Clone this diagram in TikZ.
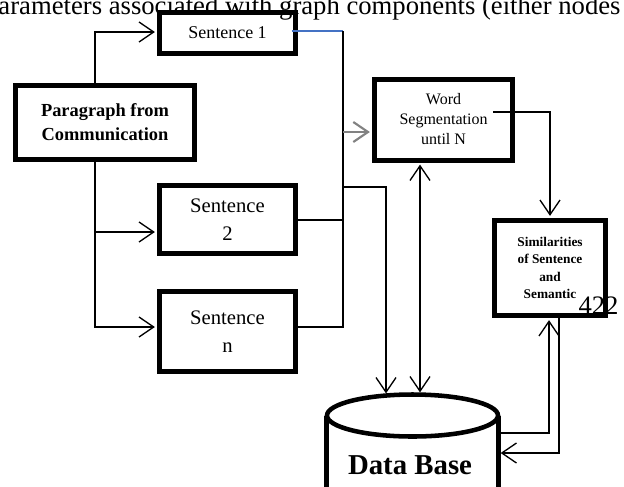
\documentclass[tikz,border=0pt]{standalone}
\usepackage{fontspec}
\setmainfont{Liberation Serif}
\usetikzlibrary{arrows.meta,calc}

\definecolor{wireblue}{RGB}{68,114,196}
\definecolor{wiregray}{RGB}{130,130,130}

\tikzset{every picture/.style={line width=0.75pt}}
\tikzset{
  boxnode/.style={draw, line width=3.75pt, inner sep=0pt, align=center},
  dbline/.style={line width=3.4pt},
  wire/.style={line width=1pt},
  arr/.style={wire, -{Straight Barb[length=11pt,width=15pt]}, shorten >=1.6pt},
  biarr/.style={wire, {Straight Barb[length=11pt,width=15pt]}-{Straight Barb[length=11pt,width=15pt]}, shorten >=1.6pt, shorten <=1.6pt},
  grayarr/.style={line width=1.6pt, wiregray, -{Straight Barb[length=11pt,width=15pt]}, shorten >=1.6pt},
  blueline/.style={wire, wireblue},
}

\begin{document}
\begin{tikzpicture}[x=0.75pt,y=0.75pt,yscale=-1,xscale=1]
\useasboundingbox (0,0) rectangle (624,486);
\clip (0,0) rectangle (624,486);

% Text Node
\node [anchor=base west, inner sep=0pt, font=\fontsize{20}{24}\selectfont] (header) at (-2,14) {arameters associated with graph components (either nodes};

%Shape: Rectangle
\node [boxnode, minimum width=134.25pt, minimum height=55.5pt, font=\bfseries\fontsize{13.8}{18}\selectfont] (para) at (105,122.5) {Paragraph from\\Communication};
%Shape: Rectangle
\node [boxnode, minimum width=102pt, minimum height=30.75pt, font=\fontsize{13.5}{16}\selectfont] (s1) at (227.5,33) {Sentence 1};
%Shape: Rectangle
\node [boxnode, minimum width=102pt, minimum height=51pt, font=\fontsize{15.5}{20.5}\selectfont] (s2) at (227.5,219.5) {Sentence\\2};
%Shape: Rectangle
\node [boxnode, minimum width=102pt, minimum height=60pt, font=\fontsize{15.5}{21.5}\selectfont] (sn) at (227.5,331.5) {Sentence\\n};
%Shape: Rectangle
\node [boxnode, minimum width=103.5pt, minimum height=60.75pt, font=\fontsize{12}{15}\selectfont] (word) at (443.5,119.5) {Word\\Segmentation\\until N};
%Shape: Rectangle
\node [boxnode, minimum width=83.25pt, minimum height=71.25pt, font=\bfseries\fontsize{10}{13.2}\selectfont] (sim) at (550,268) {Similarities\\of Sentence\\and\\Semantic};

%Shape: Can
\node [minimum width=128.25pt, minimum height=90.75pt, inner sep=0pt] (db) at (412.5,476.5) {};
\draw [dbline] (db.south west) -- (db.north west) (db.north east) -- (db.south east);
\draw [dbline, fill=white] (db.north) ellipse [x radius=85.5, y radius=21];
% Text Node
\node [font=\bfseries\fontsize{21.6}{26}\selectfont, inner sep=0pt] (dbname) at (410,465) {Data Base};
% Text Node
\node [anchor=base, inner sep=0pt, font=\fontsize{20}{24}\selectfont] (pagenum) at (598.5,314) {422};

%Straight Lines
\draw [arr] (para.north -| 95,0) |- (s1.west |- 0,32);
\draw [arr] (para.south -| 95,0) |- (s2.west |- 0,232);
\draw [arr] (para.south -| 95,0) |- (sn.west |- 0,327);

%Straight Lines
\coordinate (bus) at (343,31);
\draw [blueline] ($(s1.east)+(-6.5,-2)$) -- (bus);
\draw [wire] (s2.east |- 0,220) -- (bus |- 0,220);
\draw [wire] (sn.east |- 0,327) -| (bus);
\draw [grayarr] (bus |- 0,132) -- (word.west |- 0,132);
\draw [arr] (bus |- 0,187) -| ($(db.north)+(-26.5,-20)$);

%Straight Lines
\draw [biarr] (word.south -| 420,0) -- ($(db.north)+(7.5,-21)$);
\draw [arr] ($(word.center)+(49.5,-7.5)$) -| (sim.north);
\draw [arr] (db.east |- 0,433) -| (sim.south -| 549,0);
\draw [arr] (sim.south -| 559,0) |- (db.east |- 0,453);

\end{tikzpicture}
\end{document}
